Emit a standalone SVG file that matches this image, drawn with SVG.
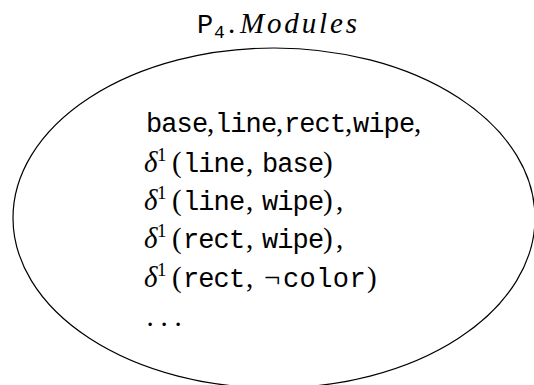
<svg xmlns="http://www.w3.org/2000/svg" width="534" height="385" viewBox="0 0 534 385">
  <style>
    .tt { font-family: "Liberation Mono", "DejaVu Sans Mono", monospace; font-size: 27px; letter-spacing: -0.9px; }
    .rm { font-family: "Liberation Serif", "DejaVu Serif", serif; font-size: 29px; }
    .it { font-family: "Liberation Serif", "DejaVu Serif", serif; font-size: 29px; font-style: italic; }
    .sup { font-family: "Liberation Serif", "DejaVu Serif", serif; font-size: 19px; }
    .outline { fill: none; stroke: #000; stroke-width: 1.2; }
    text { fill: #000; }
  </style>
  <rect width="534" height="385" fill="#fff"/>

  <!-- title above the module set -->
  <g id="title">
    <text y="33"><tspan class="tt" x="197" style="letter-spacing:0">P</tspan><tspan class="tt" x="214" y="38" style="font-size:18px;letter-spacing:0">4</tspan><tspan class="rm" x="228" y="33">.</tspan><tspan class="it" x="240" textLength="117" lengthAdjust="spacing">Modules</tspan></text>
  </g>

  <!-- module set -->
  <g id="modules">
    <ellipse class="outline" cx="274" cy="218" rx="261" ry="170"/>

    <text y="132"><tspan class="tt" x="146">base</tspan><tspan class="rm" x="207">,</tspan><tspan class="tt" x="215">line</tspan><tspan class="rm" x="276">,</tspan><tspan class="tt" x="284">rect</tspan><tspan class="rm" x="345">,</tspan><tspan class="tt" x="353">wipe</tspan><tspan class="rm" x="414">,</tspan></text>

    <text y="172"><tspan class="it" x="144">δ</tspan><tspan class="sup" x="157" y="161">1</tspan><tspan class="rm" x="172" y="172">(</tspan><tspan class="tt" x="183">line</tspan><tspan class="rm" x="246">,</tspan><tspan class="tt" x="262">base</tspan><tspan class="rm" x="323">)</tspan></text>

    <text y="210"><tspan class="it" x="144">δ</tspan><tspan class="sup" x="157" y="199">1</tspan><tspan class="rm" x="172" y="210">(</tspan><tspan class="tt" x="183">line</tspan><tspan class="rm" x="246">,</tspan><tspan class="tt" x="262">wipe</tspan><tspan class="rm" x="323">)</tspan><tspan class="rm" x="336">,</tspan></text>

    <text y="248"><tspan class="it" x="144">δ</tspan><tspan class="sup" x="157" y="237">1</tspan><tspan class="rm" x="172" y="248">(</tspan><tspan class="tt" x="183">rect</tspan><tspan class="rm" x="246">,</tspan><tspan class="tt" x="262">wipe</tspan><tspan class="rm" x="323">)</tspan><tspan class="rm" x="336">,</tspan></text>

    <text y="287"><tspan class="it" x="144">δ</tspan><tspan class="sup" x="157" y="276">1</tspan><tspan class="rm" x="172" y="287">(</tspan><tspan class="tt" x="183">rect</tspan><tspan class="rm" x="246">,</tspan><tspan class="rm" x="264">¬</tspan><tspan class="tt" x="283" style="letter-spacing:0.4px">color</tspan><tspan class="rm" x="367">)</tspan></text>

    <text y="326"><tspan class="rm" x="146.5">.</tspan><tspan class="rm" x="160.5">.</tspan><tspan class="rm" x="174.5">.</tspan></text>
  </g>
</svg>
